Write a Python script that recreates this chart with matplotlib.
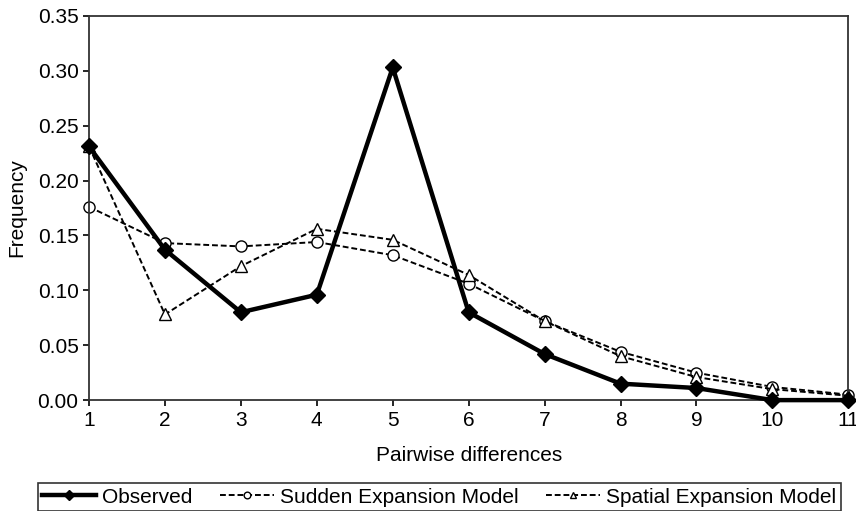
import numpy as np
import matplotlib
matplotlib.use('Agg')
import matplotlib.pyplot as plt

plt.rcParams['font.family'] = ['Liberation Sans', 'DejaVu Sans']

diffs = [1, 2, 3, 4, 5, 6, 7, 8, 9, 10, 11]
observed = [0.231, 0.137, 0.080, 0.096, 0.303, 0.080, 0.042, 0.015, 0.011, 0.000, 0.000]
sudden = [0.176, 0.143, 0.140, 0.144, 0.132, 0.106, 0.072, 0.044, 0.025, 0.012, 0.005]
spatial = [0.231, 0.078, 0.122, 0.156, 0.146, 0.114, 0.072, 0.040, 0.021, 0.010, 0.004]
yticks = [0.00, 0.05, 0.10, 0.15, 0.20, 0.25, 0.30, 0.35]

fig = plt.figure(figsize=(8.56, 5.11), dpi=100)
ax = fig.add_axes([0.104, 0.217, 0.887, 0.752])

ax.plot(diffs, observed, color='black', lw=3.2, marker='D', ms=8,
        label='Observed', zorder=3, clip_on=False)
ax.plot(diffs, sudden, color='black', lw=1.4, ls=(0, (3, 1.5)), marker='o', ms=8,
        mfc='white', mec='black', mew=1.0, label='Sudden Expansion Model', clip_on=False)
ax.plot(diffs, spatial, color='black', lw=1.4, ls=(0, (3, 1.5)), marker='^', ms=8,
        mfc='white', mec='black', mew=1.0, label='Spatial Expansion Model', clip_on=False)

ax.set_xlim(1, 11)
ax.set_ylim(0, 0.35)
ax.set_xticks(diffs)
ax.set_yticks(yticks)
ax.set_yticklabels(['%.2f' % v for v in yticks])
ax.tick_params(direction='out', length=4, width=1.2, labelsize=15, colors='black')
for s in ax.spines.values():
    s.set_linewidth(1.3)
    s.set_color('#333333')

ax.set_xlabel('Pairwise differences', fontsize=15, labelpad=12)
ax.set_ylabel('Frequency', fontsize=15, labelpad=8)

leg = fig.legend(loc='lower center', bbox_to_anchor=(0.513, -0.02), ncol=3, fontsize=15,
                 frameon=True, fancybox=False, edgecolor='black', handlelength=2.6,
                 handletextpad=0.3, columnspacing=1.3, borderpad=0.2, markerscale=0.6)
leg.get_frame().set_linewidth(1.2)

fig.savefig('out.png', dpi=100)
